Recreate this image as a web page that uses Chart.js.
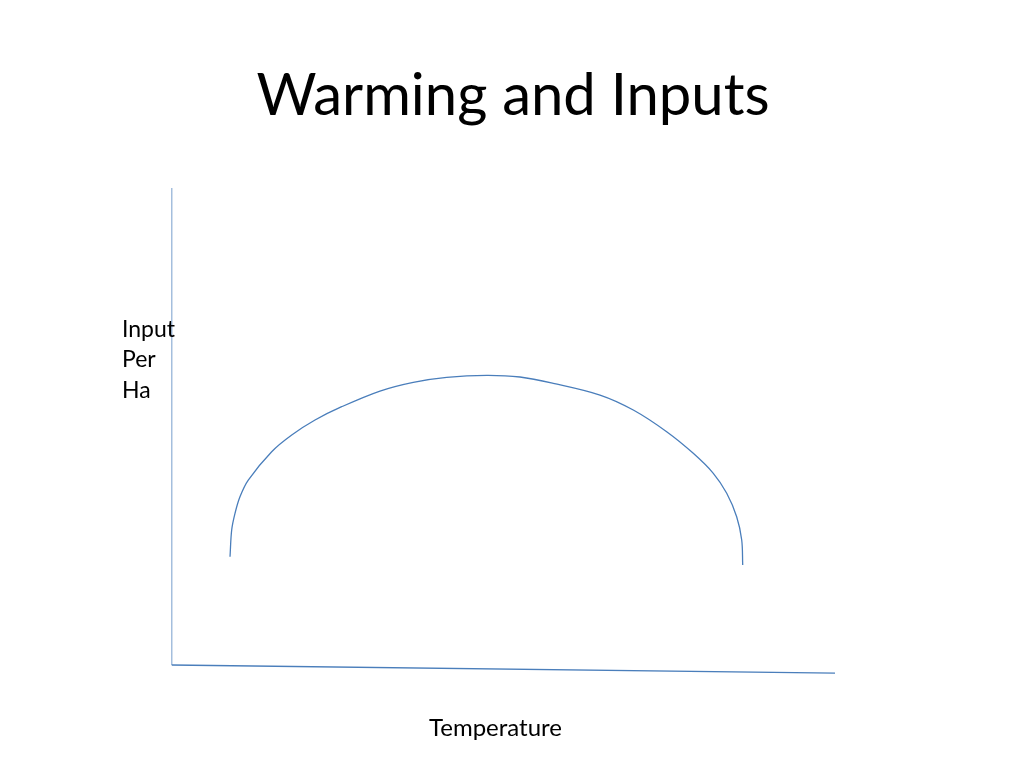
<!DOCTYPE html>
<html>
<head>
<meta charset="utf-8">
<script src="https://cdn.jsdelivr.net/npm/chart.js@4"></script>
<style>
  html, body { margin: 0; padding: 0; background: #fff; }
  #wrap { position: relative; width: 1024px; height: 768px; overflow: hidden; }
  #chart { position: absolute; left: 0; top: 0; }
  .txt { position: absolute; font-family: Lato, "Open Sans", sans-serif; color: #000; white-space: nowrap; }
  #title { left: 0; width: 1026px; top: 57.6px; text-align: center; font-size: 58px; line-height: 70px; }
  #ylab { left: 122px; top: 312.5px; font-size: 23px; line-height: 30.5px; }
  #xlab { left: 0; width: 991px; top: 714.4px; text-align: center; font-size: 24px; line-height: 26px; }
</style>
</head>
<body>
<div id="wrap">
  <canvas id="chart" width="1024" height="768"></canvas>
  <div class="txt" id="title">Warming and Inputs</div>
  <div class="txt" id="ylab">Input<br>Per<br>Ha</div>
  <div class="txt" id="xlab">Temperature</div>
</div>
<script>
// curve (x = temperature, y = input per ha, arbitrary units)
const curveX = [8.82, 9.07, 9.57, 10.32, 11.57, 15.10, 18.12, 21.63, 25.65, 31.42, 36.44, 41.48,
  47.51, 52.52, 57.54, 64.58, 69.60, 74.63, 78.64, 81.66, 83.68, 85.18, 85.94, 86.09];
const curveY = [22.70, 28.30, 31.80, 35.28, 38.78, 44.72, 48.22, 51.36, 54.15, 57.44, 59.27, 60.31,
  60.73, 60.38, 59.06, 56.60, 53.46, 48.91, 44.38, 40.19, 36.00, 31.09, 26.21, 20.96];

// hand drawn axes
const yAxisX = [0, 0];
const yAxisY = [100, 0];
const xAxisX = [0, 100];
const xAxisY = [0, -1.7];

const lineColor = "#4a7ebb";

function pts(xs, ys) {
  return xs.map((x, i) => ({ x: x, y: ys[i] }));
}

new Chart(document.getElementById("chart"), {
  type: "line",
  data: {
    datasets: [
      { data: pts(curveX, curveY), borderColor: lineColor, borderWidth: 1.3, tension: 0.35, pointRadius: 0, fill: false },
      { data: pts(yAxisX, yAxisY), borderColor: lineColor, borderWidth: 1.5, tension: 0, pointRadius: 0, fill: false },
      { data: pts(xAxisX, xAxisY), borderColor: lineColor, borderWidth: 1.3, tension: 0, pointRadius: 0, fill: false }
    ]
  },
  options: {
    responsive: false,
    animation: false,
    events: [],
    layout: { padding: { left: 171.5, right: 189, top: 188, bottom: 93.46 } },
    plugins: { legend: { display: false }, tooltip: { enabled: false }, title: { display: false } },
    scales: {
      x: { type: "linear", min: 0, max: 100, display: false },
      y: { type: "linear", min: -2, max: 100, display: false }
    }
  }
});
</script>
</body>
</html>
